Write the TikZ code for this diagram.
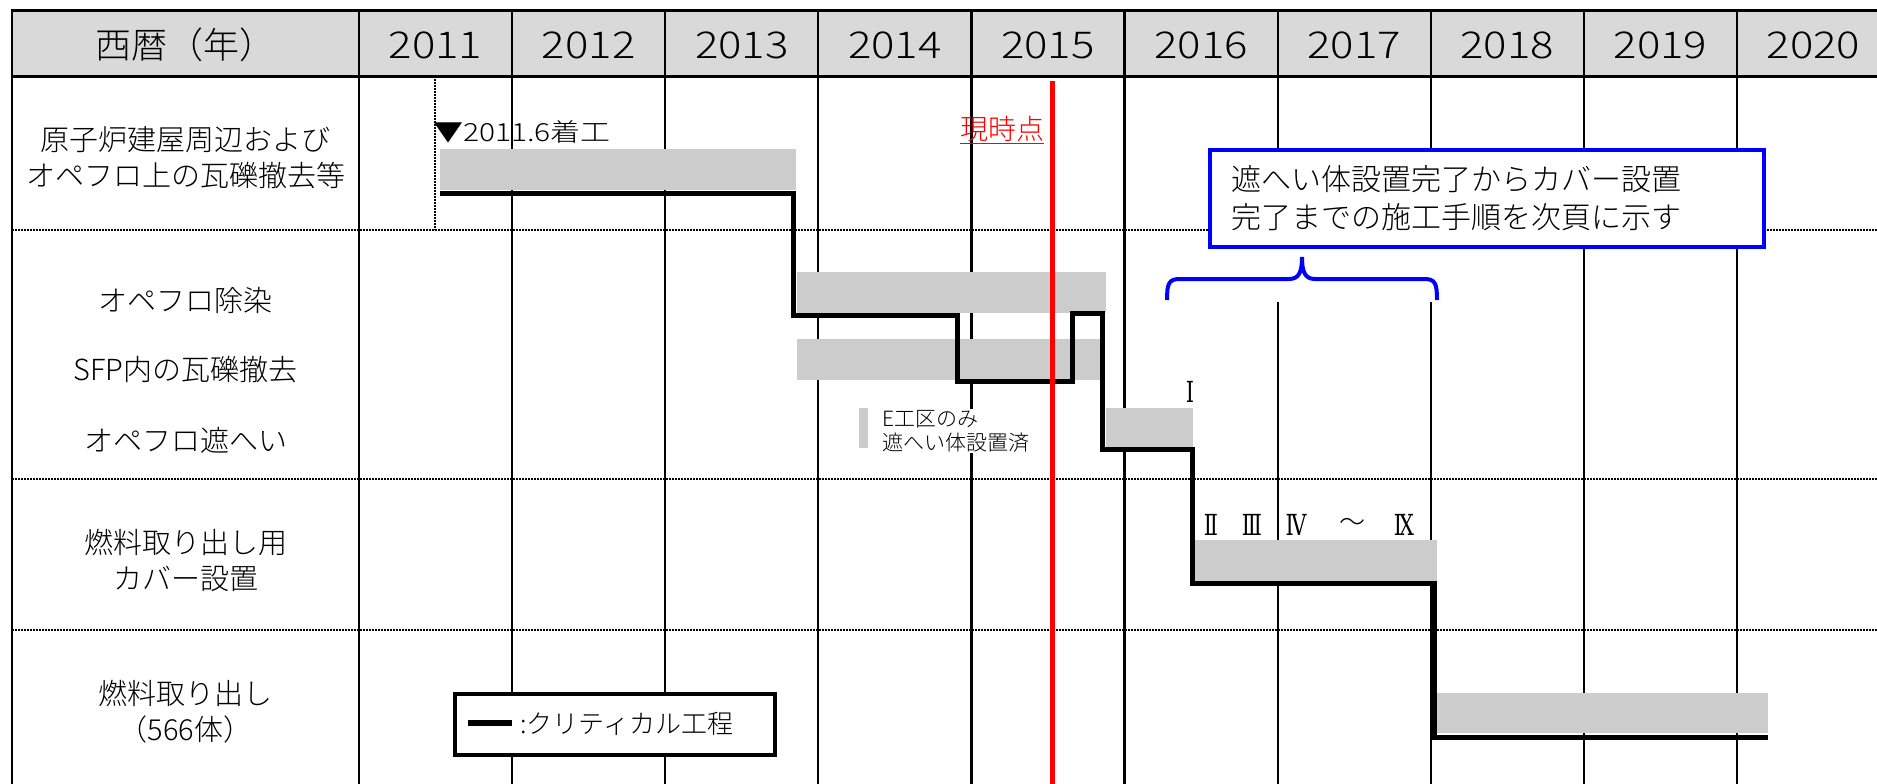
\documentclass[tikz,border=0pt]{standalone}
\usepackage{fontspec}
\setmainfont{Noto Sans CJK JP}[UprightFont={* Light}, BoldFont={* Bold}]
\newfontfamily\romfont{DejaVu Serif}[FakeStretch=0.72]
\usetikzlibrary{calc}
\definecolor{hdrgray}{HTML}{D9D9D9}
\definecolor{bargray}{HTML}{CCCCCC}
\definecolor{pureblue}{HTML}{0000FF}
\definecolor{purered}{HTML}{FF0000}
\tikzset{
  gridline/.style={line width=2.2pt},
  frameline/.style={line width=3pt},
  sepline/.style={line width=1.8pt, dash pattern=on 1.6pt off 1.4pt},
  bar/.style={fill=bargray},
  crit/.style={line width=5pt, line join=miter},
  rowlabel/.style={align=center, font=\fontsize{29}{36}\selectfont, inner sep=0pt},
  yearlabel/.style={font=\fontsize{37}{40}\selectfont\addfontfeature{FakeStretch=1.18}, inner sep=0pt},
  smalllabel/.style={font=\fontsize{21}{24}\selectfont, inner sep=1pt, align=left},
  numlabel/.style={font=\romfont\fontsize{29}{30}\selectfont, inner sep=0pt},
}
\begin{document}
\begin{tikzpicture}[x=1pt,y=-1pt]
\useasboundingbox (0,0) rectangle (1877,784);
\clip (0,0) rectangle (1877,784);
% header background
\fill[hdrgray] (12,11) rectangle (1890,77);
% vertical grid
\draw[gridline] (12,11) -- (12,790);
\foreach \k in {0,...,9} \draw[gridline] ({359+153.1*\k},11) -- ({359+153.1*\k},790);
% header lines
\draw[frameline] (10.5,11) -- (1890,11);
\draw[frameline] (10.5,77) -- (1890,77);
% row separators
\foreach \yy in {230,479,630} \draw[sepline] (12,\yy) -- (1890,\yy);
\draw[sepline, line width=1.4pt] (435,79) -- (435,230);
% header texts
\node[font=\fontsize{36}{40}\selectfont, inner sep=0pt] (hdr) at (185.5,45) {西暦（年）};
\foreach \yr [count=\i from 0] in {2011,...,2020}
  \node[yearlabel] (y\yr) at ({359+153.1*(\i+0.5)},45) {\yr};
% row labels
\node[rowlabel] (r1) at (185.5,158) {原子炉建屋周辺および\\オペフロ上の瓦礫撤去等};
\node[rowlabel] (r2a) at (185.5,300) {オペフロ除染};
\node[rowlabel] (r2b) at (185.5,370) {SFP内の瓦礫撤去};
\node[rowlabel] (r2c) at (185.5,440) {オペフロ遮へい};
\node[rowlabel] (r3) at (185.5,560) {燃料取り出し用\\カバー設置};
\node[rowlabel] (r4) at (185.5,712) {燃料取り出し\\（566体）};
% bars
\fill[bar] (440,149) rectangle (796,190);
\fill[bar] (797,272) rectangle (1106,313);
\fill[bar] (797,339) rectangle (1102,380);
\fill[bar] (1106,408) rectangle (1193,448);
\fill[bar] (1194,540) rectangle (1437,581);
\fill[bar] (1437,693) rectangle (1768,733);
% small legend for shield
\fill[bar] (859,408) rectangle (868,448);
\node[smalllabel, fill=white, anchor=west] (eku) at (881,431) {E工区のみ\\遮へい体設置済};
% numerals
\node[numlabel] (n1) at (1190,392) {Ⅰ};
\node[numlabel] (n2) at (1211,525) {Ⅱ};
\node[numlabel] (n3) at (1252,525) {Ⅲ};
\node[numlabel] (n4) at (1296,525) {Ⅳ};
\node[font=\fontsize{26}{28}\selectfont, inner sep=0pt] (ntil) at (1352,525) {～};
\node[numlabel] (n9) at (1404,525) {Ⅸ};
% start label
\node[anchor=west, font=\fontsize{25}{26}\selectfont\addfontfeature{FakeStretch=1.2}, inner sep=0pt] (start) at (433,132) {▼2011.6着工};
% note box and brace
\fill[white] (1160,247) rectangle (1442,302);
\node[draw=pureblue, line width=4pt, fill=white, minimum width=554pt, minimum height=97pt,
      text width=512pt, inner xsep=19pt, align=left, font=\fontsize{30}{38}\selectfont] (note) at (1487,198.5)
      {遮へい体設置完了からカバー設置\\完了までの施工手順を次頁に示す};
\coordinate (bl) at (1167,300);
\coordinate (br) at (1437,300);
\coordinate (bt) at (1302,257);
\draw[pureblue, line width=4pt] (bl) .. controls (1167,283) and (1169,279) .. (1180,279) -- (1289,279)
  .. controls (1299,279) and (1302,272) .. (bt) .. controls (1302,272) and (1305,279) .. (1315,279)
  -- (1424,279) .. controls (1435,279) and (1437,283) .. (br);
% critical path
\coordinate (c0) at (440,193);
\coordinate (c1) at (793,193);
\coordinate (c2) at (793,315);
\coordinate (c3) at (957,315);
\coordinate (c4) at (957,381);
\coordinate (c5) at (1072,381);
\coordinate (c6) at (1072,313);
\coordinate (c7) at (1102,313);
\coordinate (c8) at (1102,449);
\coordinate (c9) at (1192,449);
\coordinate (c10) at (1192,583);
\coordinate (c11) at (1434,583);
\coordinate (c12) at (1434,737);
\coordinate (c13) at (1768,737);
\draw[crit] (c0) -- (c1) -- (c2) -- (c3) -- (c4) -- (c5) -- (c6) -- (c7) -- (c8) -- (c9) -- (c10) -- (c11) -- (c12) -- (c13);
% legend
\node[draw, line width=4pt, fill=white, minimum width=320pt, minimum height=61pt, inner sep=0pt] (legend) at (615,724.5) {};
\coordinate (lgA) at (468,723);
\coordinate (lgB) at (512,723);
\draw[line width=6pt] (lgA) -- (lgB);
\node[anchor=west, font=\fontsize{26}{28}\selectfont, inner sep=0pt] (legtext) at (520,724) {:クリティカル工程};
% now line
\coordinate (nowtop) at (1052,81);
\coordinate (nowbot) at (1052,790);
\draw[purered, line width=5pt] (nowtop) -- (nowbot);
\node[text=purered, font=\fontsize{28}{30}\selectfont, inner sep=0pt] (nowlbl) at (1002,129) {現時点};
\draw[purered, line width=1.5pt] ([yshift=-1.5pt]nowlbl.south west) -- ([yshift=-1.5pt]nowlbl.south east);
\end{tikzpicture}
\end{document}
